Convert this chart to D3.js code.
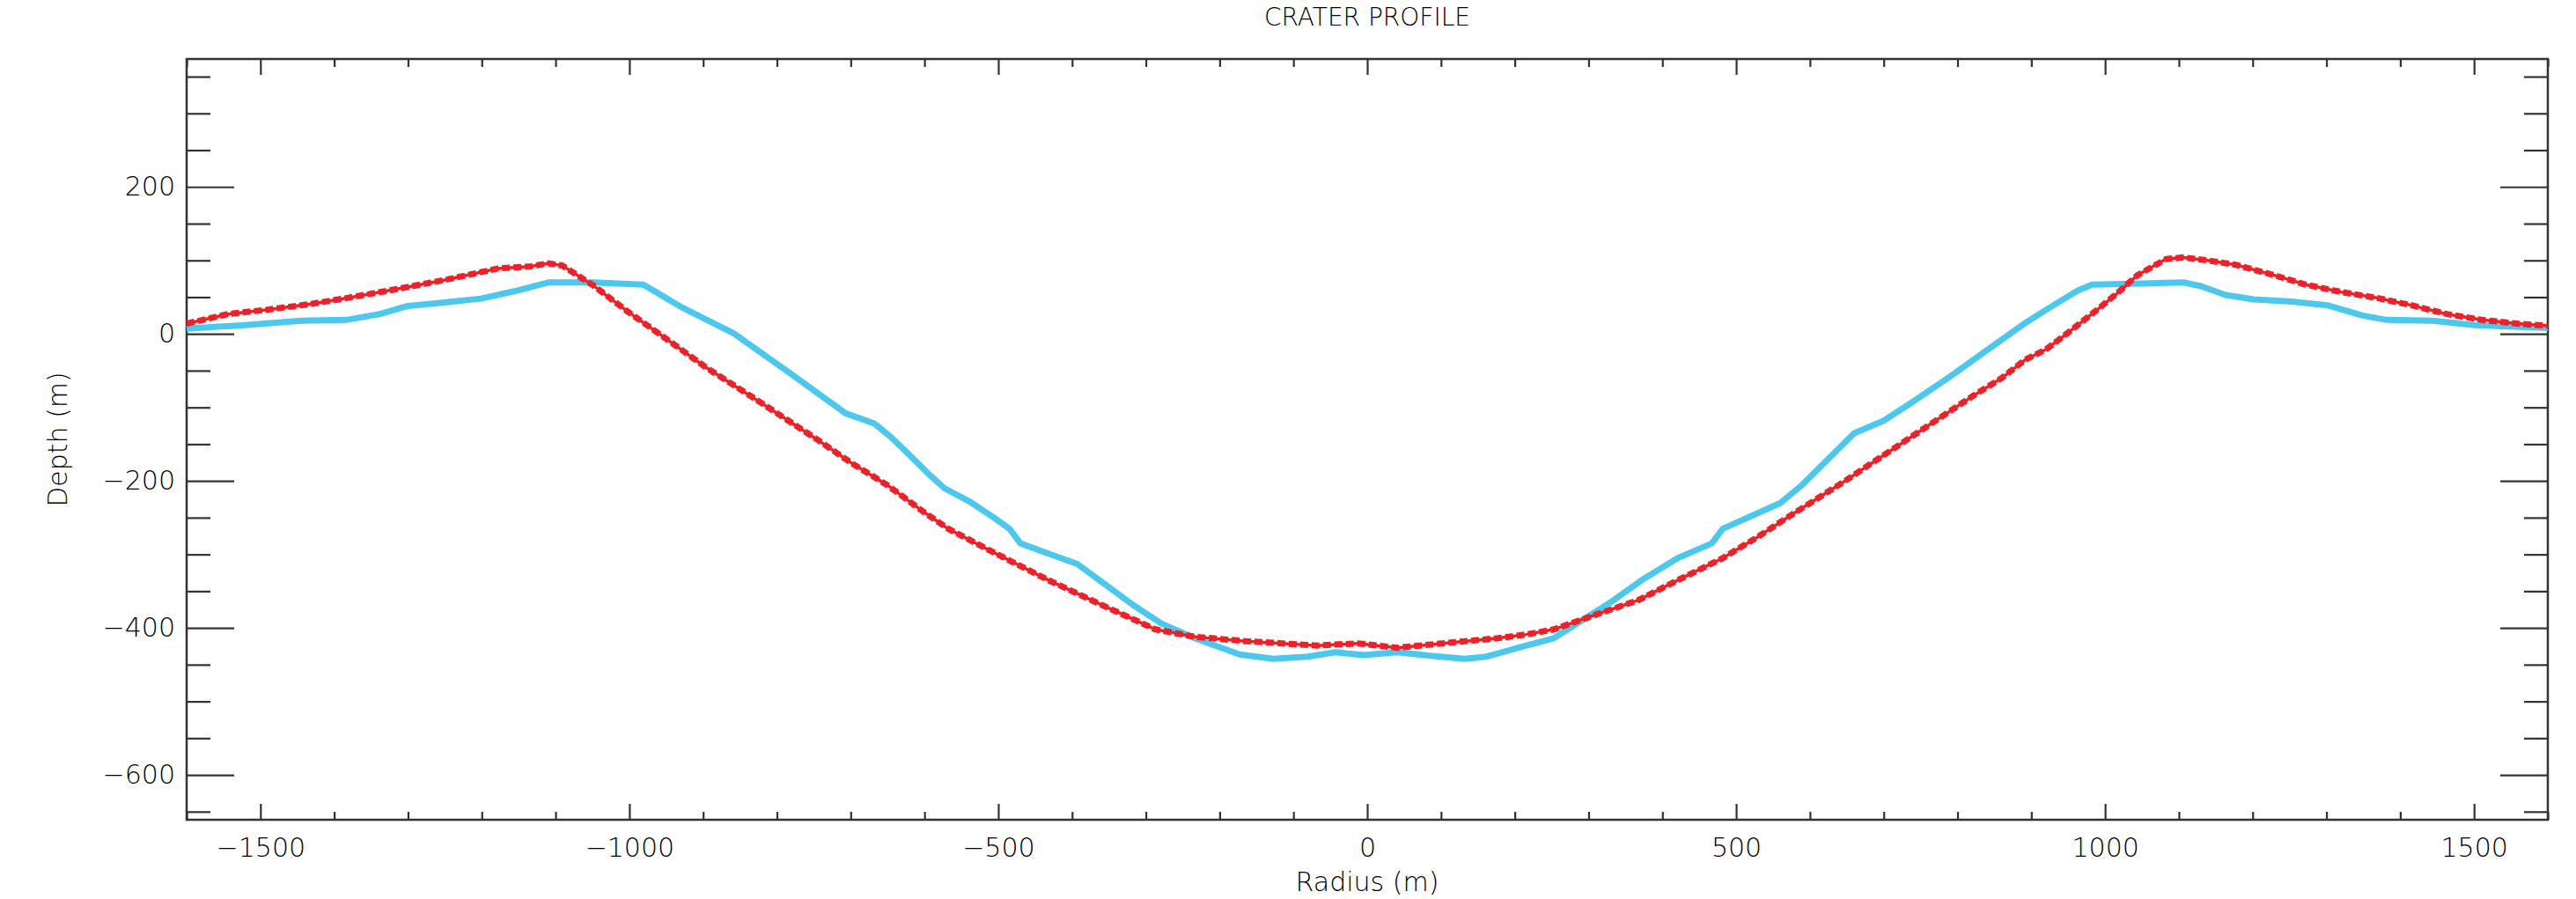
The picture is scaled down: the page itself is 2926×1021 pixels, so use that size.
<!DOCTYPE html>
<html>
    <head>
        <meta charset='UTF-8'>
        <title>Crater Profile</title>
        <script src='https://d3js.org/d3.v7.min.js'></script>
        <style type='text/css'>
        body {
            margin: 0;
            background: white;
        }
        text {
            font-family: "DejaVu Sans", sans-serif;
            font-weight: 200;
            fill: #000;
        }
        .axis path {
            display: none;
        }
        .axis line {
            stroke: #333;
            stroke-width: 2.2;
        }
        </style>
    </head>
    <body>
        <div id="container"></div>
    </body>

    <script>
        // profile 1 (cyan, solid)
        var cyanRadius = [-1600, -1521, -1445, -1384, -1338, -1300, -1239, -1201, -1156, -1110, -1049, -981, -927, -859, -783, -707, -668, -646, -620, -595, -573, -539, -506, -485, -470, -432, -393, -355, -317, -279, -234, -173, -127, -81, -43, -5, 41, 86, 132, 162, 208, 253, 292, 330, 375, 421, 467, 482, 520, 560, 590, 620, 660, 700, 740, 790, 840, 892, 930, 963, 982, 1025, 1106, 1130, 1163, 1201, 1253, 1301, 1349, 1382, 1444, 1501, 1600];
        var cyanDepth  = [7, 12, 18, 19, 27, 38, 44, 48, 58, 70, 70, 67, 35, 1, -53, -108, -122, -140, -165, -190, -210, -228, -250, -265, -285, -299, -313, -341, -369, -394, -414, -436, -442, -439, -433, -437, -433, -438, -442, -439, -426, -414, -389, -365, -333, -305, -285, -265, -248, -230, -205, -175, -135, -118, -92, -58, -22, 15, 39, 59, 67, 68, 70, 65, 53, 47, 44, 39, 25, 19, 18, 12, 8];

        // profile 2 (red, dotted)
        var redRadius = [-1600, -1544, -1490, -1430, -1376, -1315, -1247, -1178, -1133, -1110, -1091, -1049, -1003, -958, -897, -821, -745, -700, -650, -600, -568, -507, -432, -355, -287, -234, -165, -67, -13, 41, 102, 177, 215, 253, 307, 368, 421, 482, 528, 580, 640, 700, 760, 820, 860, 892, 920, 949, 987, 1016, 1044, 1083, 1106, 1139, 1177, 1225, 1272, 1320, 1368, 1415, 1463, 1511, 1559, 1600];
        var redDepth  = [14, 27, 33, 41, 50, 61, 74, 89, 92, 96, 93, 66, 31, -1, -45, -94, -144, -175, -206, -243, -265, -297, -335, -371, -402, -412, -418, -424, -421, -427, -421, -414, -409, -402, -383, -362, -335, -305, -277, -243, -205, -165, -125, -85, -60, -35, -21, 1, 31, 55, 80, 102, 104, 100, 94, 81, 67, 57, 49, 39, 27, 19, 14, 11];

        // axis ticks
        var xTicks = [-1500, -1000, -500, 0, 500, 1000, 1500];
        var yTicks = [-600, -400, -200, 0, 200];

        var cyanData = cyanRadius.map(function(r, i) { return {r: r, d: cyanDepth[i]}; });
        var redData  = redRadius.map(function(r, i) { return {r: r, d: redDepth[i]}; });

        // dimensions and margins of the graph
        var margin = {top: 67, right: 32, bottom: 90, left: 212};
        var width  = 2926 - margin.left - margin.right;
        var height = 1021 - margin.top - margin.bottom;

        // set the ranges
        var x = d3.scaleLinear().domain([-1600, 1600]).range([0, width]);
        var y = d3.scaleLinear().domain([-661, 374]).range([height, 0]);
        var fmt = d3.format("d");

        var svg = d3.select("#container").append("svg")
            .attr("width", 2926)
            .attr("height", 1021)
            .append("g")
            .attr("transform", "translate(" + margin.left + "," + margin.top + ")");

        // minor ticks first, no labels
        var xMinor = d3.range(-1600, 1601, 100).filter(function(v) { return xTicks.indexOf(v) < 0; });
        var yMinor = d3.range(-650, 374, 50).filter(function(v) { return yTicks.indexOf(v) < 0; });

        svg.append("g").attr("class", "axis")
            .attr("transform", "translate(0," + height + ")")
            .call(d3.axisBottom(x).tickValues(xMinor).tickSize(-9).tickSizeOuter(0).tickFormat(""));
        svg.append("g").attr("class", "axis")
            .call(d3.axisTop(x).tickValues(xMinor).tickSize(-9).tickSizeOuter(0).tickFormat(""));
        svg.append("g").attr("class", "axis")
            .call(d3.axisLeft(y).tickValues(yMinor).tickSize(-27).tickSizeOuter(0).tickFormat(""));
        svg.append("g").attr("class", "axis")
            .attr("transform", "translate(" + width + ",0)")
            .call(d3.axisRight(y).tickValues(yMinor).tickSize(-27).tickSizeOuter(0).tickFormat(""));

        // major ticks
        svg.append("g").attr("class", "axis")
            .attr("transform", "translate(0," + height + ")")
            .call(d3.axisBottom(x).tickValues(xTicks).tickSize(-18).tickSizeOuter(0).tickPadding(21).tickFormat(fmt));
        svg.append("g").attr("class", "axis")
            .call(d3.axisTop(x).tickValues(xTicks).tickSize(-18).tickSizeOuter(0).tickFormat(""));
        svg.append("g").attr("class", "axis")
            .call(d3.axisLeft(y).tickValues(yTicks).tickSize(-54).tickSizeOuter(0).tickPadding(13).tickFormat(fmt));
        svg.append("g").attr("class", "axis")
            .attr("transform", "translate(" + width + ",0)")
            .call(d3.axisRight(y).tickValues(yTicks).tickSize(-54).tickSizeOuter(0).tickFormat(""));

        svg.selectAll(".axis text")
            .style("font-size", "30px")
            .style("font-family", "'DejaVu Sans', sans-serif")
            .attr("fill", "#000");

        // frame
        svg.append("rect")
            .attr("width", width)
            .attr("height", height)
            .attr("fill", "none")
            .attr("stroke", "#333")
            .attr("stroke-width", 2.5);

        var line = d3.line()
            .x(function(p) { return x(p.r); })
            .y(function(p) { return y(p.d); });

        // cyan profile
        svg.append("path")
            .datum(cyanData)
            .attr("fill", "none")
            .attr("stroke", "#4cc8ee")
            .attr("stroke-width", 7)
            .attr("stroke-linejoin", "round")
            .attr("d", line);

        // red profile: thin line plus dashed thicker blobs
        svg.append("path")
            .datum(redData)
            .attr("fill", "none")
            .attr("stroke", "#ee2028")
            .attr("stroke-width", 3.5)
            .attr("d", line);
        svg.append("path")
            .datum(redData)
            .attr("fill", "none")
            .attr("stroke", "#ee2028")
            .attr("stroke-width", 7)
            .attr("stroke-dasharray", "9,4")
            .attr("d", line);

        // titles
        svg.append("text")
            .attr("x", width / 2)
            .attr("y", -38)
            .attr("text-anchor", "middle")
            .style("font-size", "28px")
            .text("CRATER PROFILE");

        svg.append("text")
            .attr("x", width / 2)
            .attr("y", height + 81)
            .attr("text-anchor", "middle")
            .style("font-size", "30px")
            .text("Radius (m)");

        svg.append("text")
            .attr("transform", "translate(" + (76 - margin.left) + "," + (height / 2) + ") rotate(-90)")
            .attr("text-anchor", "middle")
            .style("font-size", "30px")
            .text("Depth (m)");
    </script>
</html>
